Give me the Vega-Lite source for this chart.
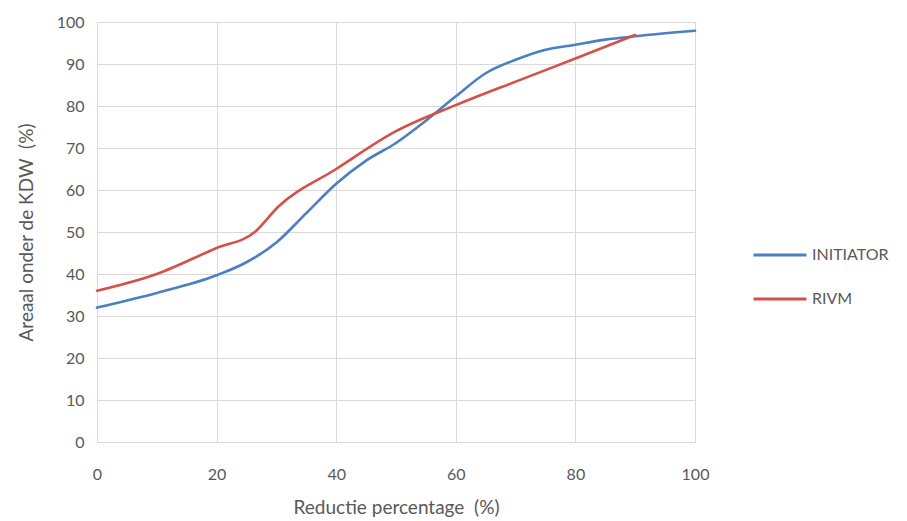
{
  "$schema": "https://vega.github.io/schema/vega-lite/v6.json",
  "width": 598,
  "height": 420,
  "autosize": {"type": "none"},
  "padding": {"left": 97, "top": 22, "right": 212, "bottom": 79},
  "background": "white",
  "config": {
    "font": "Lato",
    "view": {"stroke": "#d9d9d9", "strokeWidth": 1}
  },
  "data": {
    "values": [
      {"x": 0, "y": 32, "s": "INITIATOR"},
      {"x": 10, "y": 35.5, "s": "INITIATOR"},
      {"x": 20, "y": 39.7, "s": "INITIATOR"},
      {"x": 25, "y": 42.8, "s": "INITIATOR"},
      {"x": 30, "y": 47.5, "s": "INITIATOR"},
      {"x": 35, "y": 54.5, "s": "INITIATOR"},
      {"x": 40, "y": 61.5, "s": "INITIATOR"},
      {"x": 45, "y": 67, "s": "INITIATOR"},
      {"x": 50, "y": 71.2, "s": "INITIATOR"},
      {"x": 55, "y": 76.5, "s": "INITIATOR"},
      {"x": 60, "y": 82.3, "s": "INITIATOR"},
      {"x": 65, "y": 87.8, "s": "INITIATOR"},
      {"x": 70, "y": 91, "s": "INITIATOR"},
      {"x": 75, "y": 93.4, "s": "INITIATOR"},
      {"x": 80, "y": 94.6, "s": "INITIATOR"},
      {"x": 85, "y": 95.8, "s": "INITIATOR"},
      {"x": 90, "y": 96.6, "s": "INITIATOR"},
      {"x": 100, "y": 97.9, "s": "INITIATOR"},
      {"x": 0, "y": 36, "s": "RIVM"},
      {"x": 10, "y": 40, "s": "RIVM"},
      {"x": 20, "y": 46.2, "s": "RIVM"},
      {"x": 26.4, "y": 50, "s": "RIVM"},
      {"x": 30.3, "y": 56, "s": "RIVM"},
      {"x": 40, "y": 65, "s": "RIVM"},
      {"x": 50, "y": 74, "s": "RIVM"},
      {"x": 60, "y": 80.2, "s": "RIVM"},
      {"x": 70, "y": 85.8, "s": "RIVM"},
      {"x": 80, "y": 91.3, "s": "RIVM"},
      {"x": 90, "y": 96.9, "s": "RIVM"}
    ]
  },
  "mark": {"type": "line", "strokeWidth": 2.6, "strokeCap": "round", "strokeJoin": "round", "interpolate": "monotone"},
  "encoding": {
    "x": {
      "field": "x", "type": "quantitative",
      "scale": {"domain": [0, 100], "nice": false, "zero": false},
      "axis": {
        "values": [0, 20, 40, 60, 80, 100],
        "title": "Reductie percentage\u00a0 (%)",
        "titleFont": "Lato", "titleFontSize": 19, "titleFontWeight": "normal", "titleColor": "#595959",
        "titlePadding": 16,
        "labelFont": "Lato", "labelFontSize": 16, "labelColor": "#595959", "labelPadding": 24,
        "labelFlush": false,
        "domain": false, "ticks": false,
        "grid": true, "gridColor": "#d9d9d9", "gridWidth": 1
      }
    },
    "y": {
      "field": "y", "type": "quantitative",
      "scale": {"domain": [0, 100], "nice": false},
      "axis": {
        "values": [0, 10, 20, 30, 40, 50, 60, 70, 80, 90, 100],
        "title": "Areaal onder de KDW\u00a0 (%)",
        "titleFont": "Lato", "titleFontSize": 19, "titleFontWeight": "normal", "titleColor": "#595959",
        "titlePadding": 20,
        "labelFont": "Lato", "labelFontSize": 16, "labelColor": "#595959", "labelPadding": 13,
        "domain": false, "ticks": false,
        "grid": true, "gridColor": "#d9d9d9", "gridWidth": 1
      }
    },
    "color": {
      "field": "s", "type": "nominal",
      "scale": {"domain": ["INITIATOR", "RIVM"], "range": ["#4a7fc2", "#d4514a"]},
      "legend": {
        "title": null,
        "orient": "none",
        "legendX": 655,
        "legendY": 205,
        "symbolType": "stroke",
        "symbolSize": 2800,
        "symbolStrokeWidth": 3,
        "rowPadding": 8,
        "labelFont": "Lato", "labelFontSize": 16, "labelColor": "#595959",
        "labelOffset": 4
      }
    }
  }
}
